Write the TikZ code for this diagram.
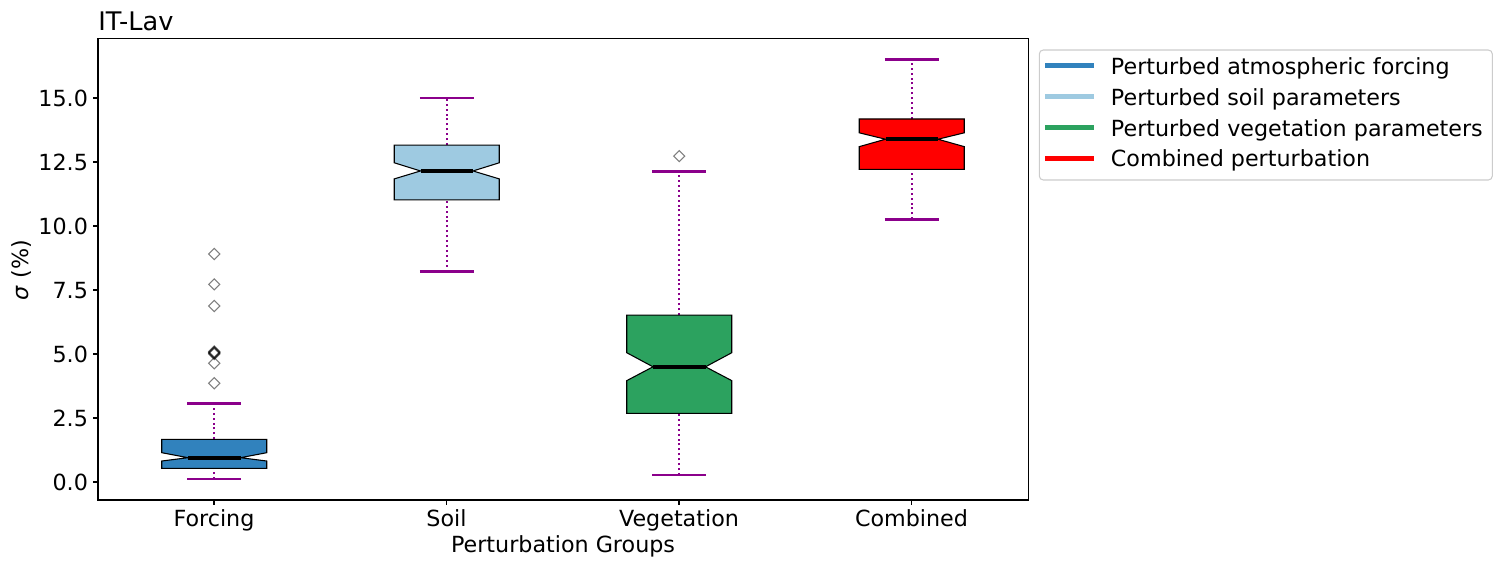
\documentclass[tikz,border=0pt]{standalone}
\usepackage{fontspec}
\setmainfont{DejaVu Sans}
\definecolor{cforce}{HTML}{3182BD}
\definecolor{csoil}{HTML}{9ECAE1}
\definecolor{cveg}{HTML}{2CA25F}
\definecolor{ccomb}{HTML}{FF0000}
\definecolor{cwhisk}{HTML}{8B008B}
\definecolor{clegedge}{HTML}{CCCCCC}
\tikzset{
  whisk/.style={cwhisk, line width=1.5pt, dash pattern=on 1.5pt off 2.2pt},
  capline/.style={cwhisk, line width=2pt},
  boxline/.style={draw=black, line width=0.8pt, line join=miter},
  medline/.style={black, line width=3.2pt},
  outlier/.style={draw=black, draw opacity=0.5, line width=0.8pt, fill=none},
  lab/.style={font=\fontsize{16.67}{20}\selectfont, inner sep=0pt},
  titlelab/.style={font=\fontsize{19.2}{22}\selectfont, inner sep=0pt},
  legline/.style={line width=3.5pt},
  frame/.style={line width=0.8pt, black},
}
% #1 pos, #2 colour, #3 low cap, #4 q1, #5 notch low, #6 median, #7 notch high, #8 q3, #9 high cap
\newcommand\notchbox[9]{%
  \draw[whisk] (#1,#3) -- (#1,#4);
  \draw[whisk] (#1,#8) -- (#1,#9);
  \draw[capline] (#1-0.116,#3) -- (#1+0.116,#3);
  \draw[capline] (#1-0.116,#9) -- (#1+0.116,#9);
  \filldraw[boxline, fill=#2] (#1-0.2258,#4) -- (#1+0.2258,#4) -- (#1+0.2258,#5)
     -- (#1+0.1129,#6) -- (#1+0.2258,#7) -- (#1+0.2258,#8) -- (#1-0.2258,#8)
     -- (#1-0.2258,#7) -- (#1-0.1129,#6) -- (#1-0.2258,#5) -- cycle;
  \draw[medline] (#1-0.1129,#6) -- (#1+0.1129,#6);
}
\newcommand\outlierpt[2]{%
  \draw[outlier] (#1,#2) +(-4.2pt,0) -- +(0,4.2pt) -- +(4.2pt,0) -- +(0,-4.2pt) -- cycle;
}
\begin{document}
\begin{tikzpicture}[x=0.75pt, y=-0.75pt]
  \useasboundingbox (0,0) rectangle (1501,565);
  % title
  \node[titlelab, anchor=base west] (title) at (98,30.7) {IT-Lav};
  % y ticks
  \foreach \v/\lab [count=\i] in {0/0.0, 2.5/2.5, 5/5.0, 7.5/7.5, 10/10.0, 12.5/12.5, 15/15.0} {
    \pgfmathsetmacro\yy{482-25.6*\v}
    \draw[frame] (98,\yy) -- (93.1,\yy);
    \node[lab, anchor=base east] (yt\i) at (88.2,\yy+8) {\lab};
  }
  % x ticks
  \foreach \xx/\lab [count=\i] in {214/Forcing, 446.5/Soil, 679/Vegetation, 911.5/Combined} {
    \draw[frame] (\xx,500) -- (\xx,504.9);
    \node[lab, anchor=base] (xt\i) at (\xx,526) {\lab};
  }
  % axis labels
  \node[lab, anchor=base] (xlabel) at (563,552) {Perturbation Groups};
  \node[lab, anchor=base, rotate=90] (ylabel) at (28,270) {\textit{σ} (\%)};
  % data
  \begin{scope}[shift={(-18.25,482)}, x=174.375pt, y=19.2pt]
    \notchbox{1}{cforce}{0.117}{0.535}{0.82}{0.95}{1.145}{1.668}{3.07}
    \notchbox{2}{csoil}{8.21}{11.02}{11.84}{12.15}{12.47}{13.16}{15.0}
    \notchbox{3}{cveg}{0.27}{2.68}{3.96}{4.50}{5.05}{6.52}{12.14}
    \notchbox{4}{ccomb}{10.26}{12.21}{13.10}{13.39}{13.64}{14.18}{16.51}
    \outlierpt{1}{8.91}
    \outlierpt{1}{7.72}
    \outlierpt{1}{6.875}
    \outlierpt{1}{5.00}
    \outlierpt{1}{5.03}
    \outlierpt{1}{5.05}
    \outlierpt{1}{5.07}
    \outlierpt{1}{5.10}
    \outlierpt{1}{4.64}
    \outlierpt{1}{3.86}
    \outlierpt{3}{12.73}
  \end{scope}
  % frame
  \draw[frame] (98,38.5) rectangle (1028.3,500);
  % legend
  \draw[rounded corners=3pt, draw=clegedge, fill=white, line width=0.8pt] (1039.3,50) rectangle (1492.3,180);
  \foreach \yy/\col/\txt [count=\i] in {65.7/cforce/Perturbed atmospheric forcing, 96.7/csoil/Perturbed soil parameters, 127.7/cveg/Perturbed vegetation parameters, 158.3/ccomb/Combined perturbation} {
    \coordinate (la\i) at (1045,\yy);
    \coordinate (lb\i) at (1094.3,\yy);
    \draw[legline, \col] (la\i) -- (lb\i);
    \node[lab, anchor=base west] (lt\i) at (1110.7,\yy+8.3) {\txt};
  }
\end{tikzpicture}
\end{document}
